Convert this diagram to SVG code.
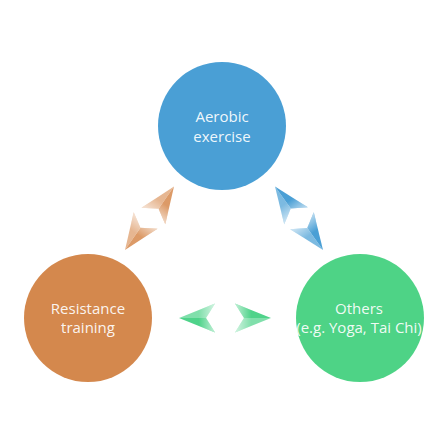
<svg xmlns="http://www.w3.org/2000/svg" width="444" height="444" viewBox="0 0 444 444">
<defs>
<style>
.lbl{font-family:"Open Sans","Noto Sans",sans-serif;font-size:15px;fill:#ffffff;fill-opacity:0.93;text-anchor:middle}
</style>
<linearGradient id="fade" gradientUnits="userSpaceOnUse" x1="0" y1="0" x2="-36" y2="0">
<stop offset="0" stop-color="#fff" stop-opacity="0"/>
<stop offset="0.55" stop-color="#fff" stop-opacity="0"/>
<stop offset="1" stop-color="#fff" stop-opacity="0.65"/>
</linearGradient>
<g id="bD">
<polygon points="0,0 -36,-14.5 -27,0" fill="#4a9fd5"/>
<polygon points="0,0 -27,0 -36,14.5" fill="#4a9fd5" fill-opacity="0.72"/>
<polygon points="0,0 -36,-14.5 -27,0 -36,14.5" fill="url(#fade)"/>
</g>
<g id="bL">
<polygon points="0,0 -36,-14.5 -27,0" fill="#4a9fd5" fill-opacity="0.72"/>
<polygon points="0,0 -27,0 -36,14.5" fill="#4a9fd5"/>
<polygon points="0,0 -36,-14.5 -27,0 -36,14.5" fill="url(#fade)"/>
</g>
<g id="oD">
<polygon points="0,0 -36,-14.5 -27,0" fill="#dc9a67"/>
<polygon points="0,0 -27,0 -36,14.5" fill="#dc9a67" fill-opacity="0.72"/>
<polygon points="0,0 -36,-14.5 -27,0 -36,14.5" fill="url(#fade)"/>
</g>
<g id="oL">
<polygon points="0,0 -36,-14.5 -27,0" fill="#dc9a67" fill-opacity="0.72"/>
<polygon points="0,0 -27,0 -36,14.5" fill="#dc9a67"/>
<polygon points="0,0 -36,-14.5 -27,0 -36,14.5" fill="url(#fade)"/>
</g>
<g id="gD">
<polygon points="0,0 -36,-14.5 -27,0" fill="#4fd38a"/>
<polygon points="0,0 -27,0 -36,14.5" fill="#4fd38a" fill-opacity="0.72"/>
<polygon points="0,0 -36,-14.5 -27,0 -36,14.5" fill="url(#fade)"/>
</g>
</defs>
<rect width="444" height="444" fill="#ffffff"/>
<g id="connectors">
<use href="#bL" transform="translate(275,186.5) rotate(234.3)"/>
<use href="#bD" transform="translate(323,250) rotate(54.3)"/>
<use href="#oL" transform="translate(174,186.5) rotate(-55.1)"/>
<use href="#oD" transform="translate(125,250) rotate(124.9)"/>
<use href="#gD" transform="translate(179,318) rotate(180)"/>
<use href="#gD" transform="translate(271,318)"/>
</g>
<g id="aerobic">
<circle cx="222" cy="126" r="64" fill="#4a9fd5"/>
<text class="lbl" x="222" y="122">Aerobic</text>
<text class="lbl" x="222" y="142">exercise</text>
</g>
<g id="resistance">
<circle cx="88" cy="318" r="64" fill="#d4884d"/>
<text class="lbl" x="88" y="314">Resistance</text>
<text class="lbl" x="88" y="333">training</text>
</g>
<g id="others">
<circle cx="360" cy="318" r="64" fill="#4ed386"/>
<text class="lbl" x="359" y="314">Others</text>
<text class="lbl" x="359" y="333">(e.g. Yoga, Tai Chi)</text>
</g>
</svg>
